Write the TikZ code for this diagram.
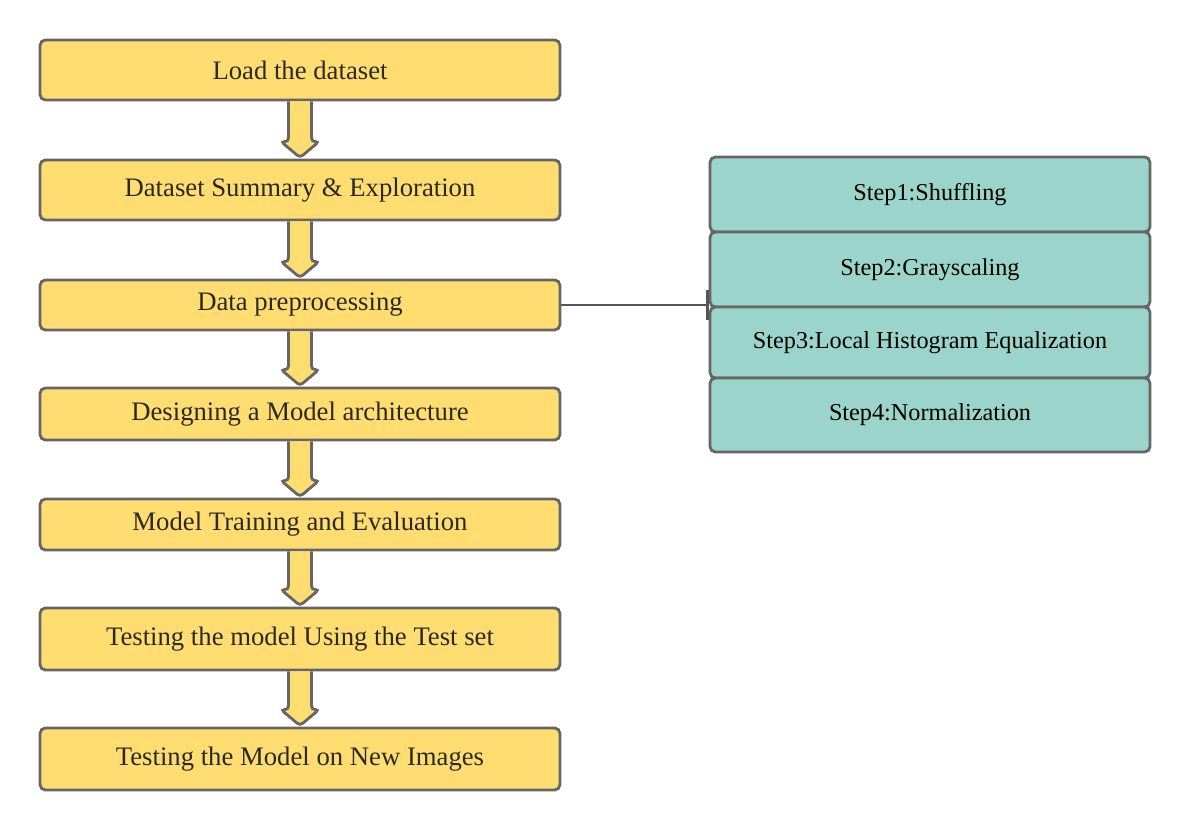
\documentclass[tikz,border=0pt]{standalone}
\usepackage{fontspec}
\setmainfont{Liberation Serif}
\usetikzlibrary{calc}
\usetikzlibrary{arrows.meta}
\definecolor{color_stage_fill}{HTML}{FFDD71}
\definecolor{color_step_fill}{HTML}{9AD4CA}
\definecolor{color_border}{HTML}{666666}
\definecolor{color_link}{HTML}{555555}
\definecolor{color_text}{HTML}{2A2A2A}
\def\shafthalf{11.5}
\def\headhalf{19}
\def\headlength{17}
\tikzset{
    stage/.style={draw=color_border, fill=color_stage_fill, line width=1.6pt, rounded corners=3pt,
        minimum width=10.4cm, text=color_text, font=\fontsize{15.2}{17}\selectfont, inner sep=0pt},
    stepbox/.style={draw=color_border, fill=color_step_fill, line width=1.6pt, rounded corners=3pt,
        minimum width=8.8cm, minimum height=1.46cm, text=black, font=\fontsize{13.8}{16}\selectfont, inner sep=0pt},
    flowarrow/.style={draw=color_border, fill=color_stage_fill, line width=1.6pt, rounded corners=2pt},
    link/.style={draw=color_link, line width=1pt, -{Bar[width=17pt,line width=1.6pt]}}
}
\def\stagearrow(#1,#2){
    \draw[flowarrow] ($(#1.south)+(-\shafthalf,0)$) -- ($(#2.north)+(-\shafthalf,-\headlength)$)
        -- ($(#2.north)+(-\headhalf,-\headlength)$) -- ($(#2.north)+(0,-1)$)
        -- ($(#2.north)+(\headhalf,-\headlength)$) -- ($(#2.north)+(\shafthalf,-\headlength)$)
        -- ($(#1.south)+(\shafthalf,0)$);
}

\begin{document}
\begin{tikzpicture}[x=0.02cm, y=-0.02cm]
        \useasboundingbox (0,0) rectangle (1190,830);
        % main flow
        \node[stage, minimum height=1.2cm] (load) at (300,70) {Load the dataset};
        \node[stage, minimum height=1.2cm] (summary) at (300,190) {Dataset Summary \& Exploration};
        \node[stage, minimum height=1cm] (prep) at (300,305) {Data preprocessing};
        \node[stage, minimum height=1.04cm] (design) at (300,414) {Designing a Model architecture};
        \node[stage, minimum height=1.02cm] (train) at (300,524.5) {Model Training and Evaluation};
        \node[stage, minimum height=1.24cm] (testset) at (300,639) {Testing the model Using the Test set};
        \node[stage, minimum height=1.24cm] (newimg) at (300,759) {Testing the Model on New Images};
        \stagearrow(load,summary)
        \stagearrow(summary,prep)
        \stagearrow(prep,design)
        \stagearrow(design,train)
        \stagearrow(train,testset)
        \stagearrow(testset,newimg)
        % preprocessing steps
        \node[stepbox, minimum height=1.5cm] (step1) at (930,194.5) {Step1:Shuffling};
        \node[stepbox, minimum height=1.5cm] (step2) at (930,269.5) {Step2:Grayscaling};
        \node[stepbox, minimum height=1.42cm] (step3) at (930,342.5) {Step3:Local Histogram Equalization};
        \node[stepbox, minimum height=1.48cm] (step4) at (930,415) {Step4:Normalization};
        \draw[link] (prep.east) -- (prep.east -| step3.west);
    \end{tikzpicture}
\end{document}
